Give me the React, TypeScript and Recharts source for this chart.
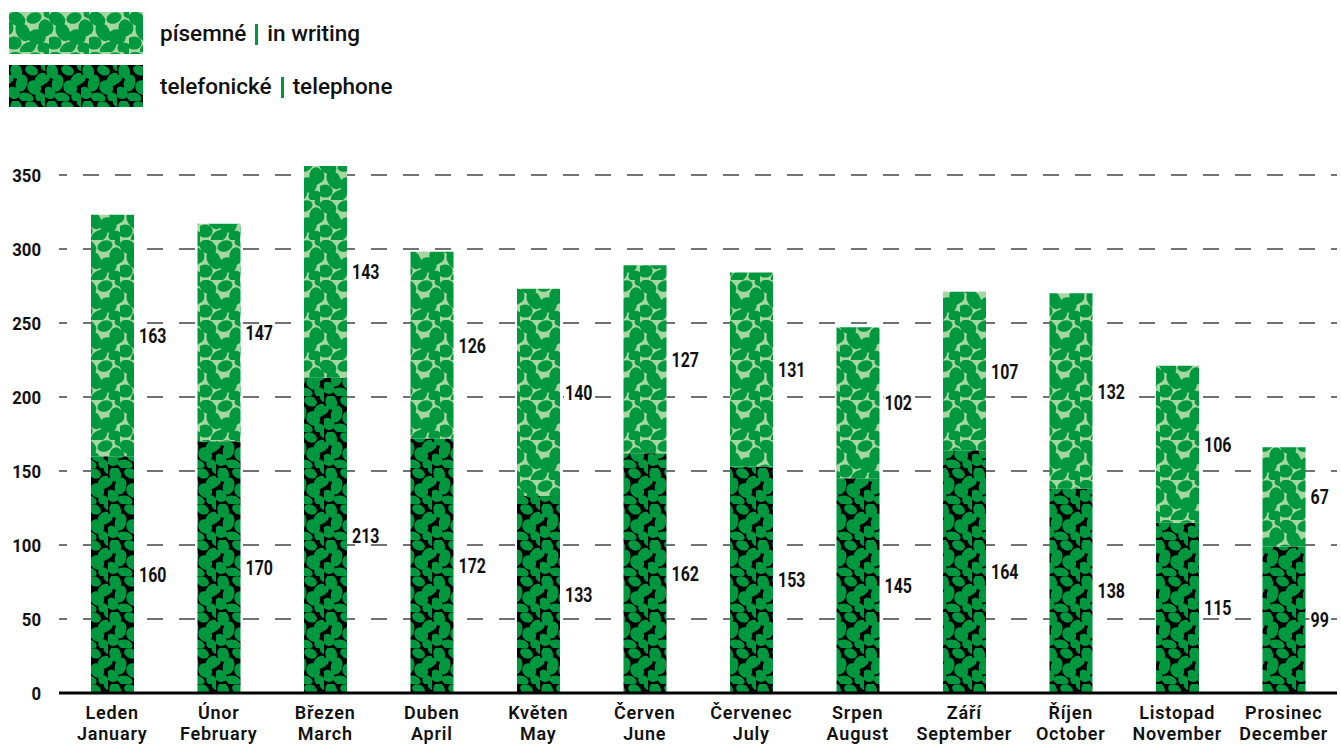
import React from 'react';
import { BarChart, Bar, XAxis, YAxis, CartesianGrid, LabelList } from 'recharts';

const monthsCz = ['Leden', 'Únor', 'Březen', 'Duben', 'Květen', 'Červen', 'Červenec', 'Srpen', 'Září', 'Říjen', 'Listopad', 'Prosinec'];
const monthsEn = ['January', 'February', 'March', 'April', 'May', 'June', 'July', 'August', 'September', 'October', 'November', 'December'];
const telephone = [160, 170, 213, 172, 133, 162, 153, 145, 164, 138, 115, 99];
const writing = [163, 147, 143, 126, 140, 127, 131, 102, 107, 132, 106, 67];
const yTicks = [0, 50, 100, 150, 200, 250, 300, 350];

const data = monthsCz.map((m, i) => ({ month: m, telephone: telephone[i], writing: writing[i] }));

const GREEN = '#00983f';
const PALE = '#a7d7a1';
const FONT = 'Roboto, sans-serif';

// blobs for the leafy texture tile (40x40)
const blobs = [
  { cx: 8, cy: 7, rx: 8, ry: 6, r: 30 },
  { cx: 25, cy: 6, rx: 7, ry: 5, r: -20 },
  { cx: 36, cy: 16, rx: 6, ry: 8, r: 0 },
  { cx: 14, cy: 20, rx: 9, ry: 6, r: 60 },
  { cx: 28, cy: 25, rx: 8, ry: 7, r: 10 },
  { cx: 5, cy: 31, rx: 7, ry: 6, r: 0 },
  { cx: 19, cy: 36, rx: 8, ry: 5, r: -30 },
  { cx: 35, cy: 36, rx: 6, ry: 5, r: 0 },
  { cx: 0, cy: 16, rx: 4, ry: 6, r: 0 },
  { cx: 40, cy: 2, rx: 5, ry: 4, r: 0 },
];

const Patterns = ({ prefix }: { prefix: string }) => (
  <defs>
    <pattern id={prefix + 'light'} width={40} height={40} patternUnits="userSpaceOnUse">
      <rect width={40} height={40} fill={PALE} />
      {blobs.map((b, i) => (
        <ellipse key={i} cx={b.cx} cy={b.cy} rx={b.rx * 1.1} ry={b.ry * 1.1} fill={GREEN} transform={`rotate(${b.r} ${b.cx} ${b.cy})`} />
      ))}
    </pattern>
    <pattern id={prefix + 'dark'} width={36} height={36} patternUnits="userSpaceOnUse">
      <rect width={36} height={36} fill="#000" />
      {blobs.map((b, i) => (
        <ellipse key={i} cx={b.cx * 0.9} cy={b.cy * 0.9} rx={b.rx * 0.95} ry={b.ry * 0.95} fill={GREEN} transform={`rotate(${b.r + 45} ${b.cx * 0.9} ${b.cy * 0.9})`} />
      ))}
    </pattern>
  </defs>
);

const XTick = (props: any) => {
  const { x, y, payload } = props;
  const i = monthsCz.indexOf(payload.value);
  return (
    <text x={x} y={y} textAnchor="middle" fontFamily={FONT} fontWeight={600} fontSize={18} letterSpacing={0.8} fill="#111">
      <tspan x={x} dy={26}>{payload.value}</tspan>
      <tspan x={x} dy={21}>{monthsEn[i]}</tspan>
    </text>
  );
};

const YTick = (props: any) => {
  const { x, y, payload } = props;
  return (
    <text transform={`translate(${x},${y}) scale(0.88,1)`} textAnchor="end" dy="0.36em" fontFamily={FONT} fontWeight={700} fontSize={19} fill="#111">
      {payload.value}
    </text>
  );
};

// value to the right of each segment, on a small white box that hides the grid
const ValueLabel = (props: any) => {
  const { x, y, width, height, value } = props;
  const tx = x + width + 5;
  const ty = y + height / 2;
  const w = String(value).length * 9.2 + 2;
  return (
    <g>
      <rect x={tx - 1} y={ty - 8} width={w} height={16} fill="#fff" />
      <text transform={`translate(${tx},${ty}) scale(0.76,1)`} dy="0.36em" fontFamily={FONT} fontWeight={700} fontSize={21} fill="#111">
        {value}
      </text>
    </g>
  );
};

const Swatch = ({ kind }: { kind: string }) => (
  <svg width={134} height={42} style={{ display: 'block' }}>
    <Patterns prefix={'lg' + kind} />
    <rect width={134} height={42} fill={`url(#lg${kind}${kind})`} />
  </svg>
);

const LegendRow = ({ kind, cz, en, top }: { kind: string; cz: string; en: string; top: number }) => (
  <div style={{ position: 'absolute', left: 9, top, display: 'flex', alignItems: 'center' }}>
    <Swatch kind={kind} />
    <span style={{ marginLeft: 17, fontFamily: FONT, fontWeight: 500, fontSize: 22.5, color: '#111', display: 'flex', alignItems: 'center' }}>
      {cz}
      <span style={{ display: 'inline-block', width: 3, height: 21, background: GREEN, margin: '2px 9px 0' }} />
      {en}
    </span>
  </div>
);

export default function App() {
  return (
    <div style={{ position: 'absolute', left: 0, top: 0, width: 1341, height: 744, background: '#fff' }}>
      <LegendRow kind="light" cz="písemné" en="in writing" top={12} />
      <LegendRow kind="dark" cz="telefonické" en="telephone" top={65} />
      <BarChart width={1341} height={744} data={data} margin={{ top: 166, right: 4, left: 0, bottom: 0 }}>
        <Patterns prefix="" />
        <CartesianGrid vertical={false} syncWithTicks stroke="#444" strokeWidth={1.5} strokeDasharray="16 16" strokeDashoffset={8} />
        <YAxis
          domain={[0, 356]}
          ticks={yTicks}
          width={59}
          axisLine={false}
          tickLine={false}
          tickSize={0}
          tickMargin={18}
          tick={<YTick />}
        />
        <XAxis
          dataKey="month"
          height={51}
          axisLine={{ stroke: '#000', strokeWidth: 3 }}
          tickLine={false}
          tickSize={0}
          tickMargin={0}
          interval={0}
          tick={<XTick />}
        />
        <Bar dataKey="telephone" stackId="a" barSize={43} fill="url(#dark)" isAnimationActive={false}>
          <LabelList dataKey="telephone" content={<ValueLabel />} />
        </Bar>
        <Bar dataKey="writing" stackId="a" barSize={43} fill="url(#light)" isAnimationActive={false}>
          <LabelList dataKey="writing" content={<ValueLabel />} />
        </Bar>
      </BarChart>
    </div>
  );
}
